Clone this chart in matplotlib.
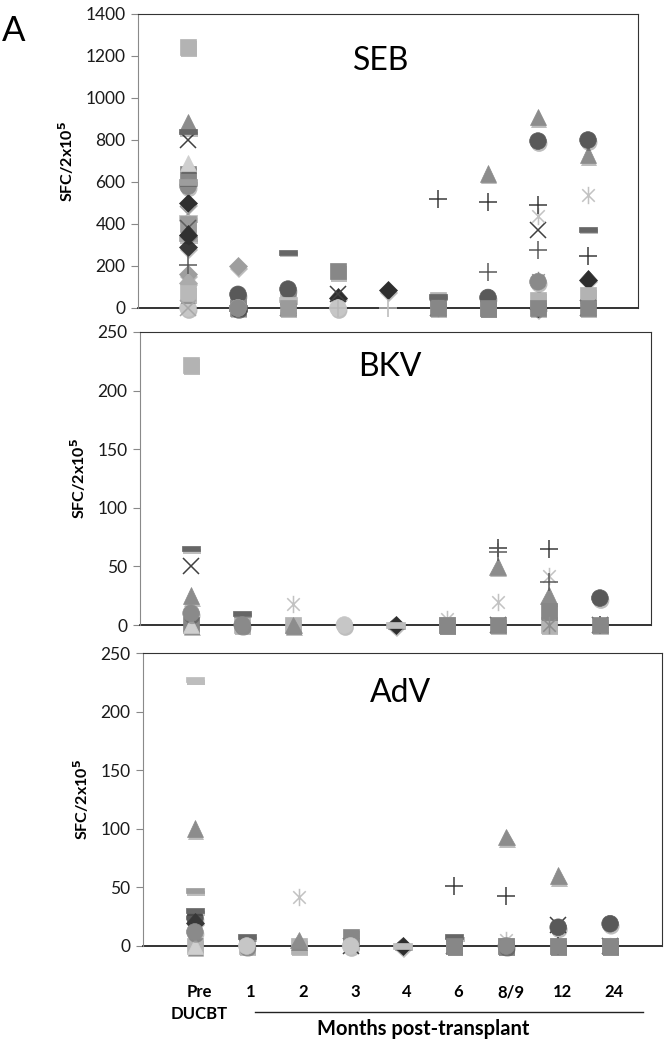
import numpy as np
import matplotlib
matplotlib.use("Agg")
import matplotlib.pyplot as plt
import matplotlib.patheffects as pe
from matplotlib.path import Path
from matplotlib.transforms import blended_transform_factory

plt.rcParams['font.family'] = ['Lato', 'DejaVu Sans']

N = np.nan

### Categories
months = ["Pre", "1", "2", "3", "4", "6", "8/9", "12", "24"]
panelNames = ["SEB", "BKV", "AdV"]

### Patients: marker + grey tone
patientMarker = ['D', 's', '^', 'x', '*', 'o', '+', '-', 'D', 's', '^', 'x', '*', 'o',
				 '+', '-', 'D', 's', 'o', '-', 'x', 'D', '+', '-', 's', 'D', 'x']
patientColor  = ['#2e2e2e', '#b3b3b3', '#8c8c8c', '#404040', '#c2c2c2', '#595959', '#3c3c3c',
				 '#666666', '#9e9e9e', '#878787', '#cfcfcf', '#9a9a9a', '#8e8e8e', '#c6c6c6',
				 '#b8b8b8', '#bdbdbd', '#383838', '#9b9b9b', '#8a8a8a', '#a5a5a5', '#5e5e5e',
				 '#ababab', '#5a5a5a', '#9d9d9d', '#b9b9b9', '#303030', '#a8a8a8']

### SFC/2x10^5 per patient (Pre, 1, 2, 3, 4, 6, 8/9, 12, 24 months)
sebValues = [
	[500, N, N, 50, 85, N, N, 0, 135],
	[1245, 30, 50, N, N, 40, 0, 40, 60],
	[885, N, 15, N, N, N, 640, 910, 730],
	[800, N, 0, 65, N, 0, N, 370, 0],
	[N, N, N, N, N, 0, 0, 440, 540],
	[N, 65, 90, N, N, N, 50, 795, 800],
	[N, N, N, N, N, 520, 505, 490, 250],
	[840, 0, 265, N, N, 55, N, N, 375],
	[160, 200, N, N, N, N, N, N, N],
	[640, 0, N, 175, N, 0, 0, 0, 0],
	[690, N, N, N, N, N, N, N, N],
	[450, N, N, N, N, N, N, N, N],
	[N, N, N, N, N, N, N, 135, N],
	[0, 0, N, 0, N, N, N, N, N],
	[N, N, N, 0, 0, N, N, N, N],
	[430, N, 40, N, N, N, N, N, N],
	[290, N, N, N, N, N, N, N, N],
	[400, N, 0, N, N, N, N, N, N],
	[580, 0, N, N, N, N, N, 125, N],
	[330, N, N, N, N, N, N, N, N],
	[380, N, N, N, N, N, N, N, N],
	[120, N, N, N, N, N, N, N, N],
	[205, N, N, N, N, N, 170, 275, N],
	[600, N, N, N, N, N, N, N, N],
	[70, N, N, N, N, N, N, N, N],
	[350, N, N, N, N, N, N, N, N],
	[0, N, N, N, N, N, N, N, N],
]

bkvValues = [
	[N, N, N, N, 0, N, N, N, N],
	[222, 0, 0, N, N, 0, N, 0, N],
	[25, N, 0, N, N, N, 50, 25, N],
	[50, N, N, N, N, N, 0, N, 0],
	[N, N, 18, N, N, 5, 20, 42, N],
	[N, N, N, N, N, N, N, N, 23],
	[N, N, N, N, N, N, 66, 65, 0],
	[65, 10, N, N, N, N, N, N, N],
	[N] * 9,
	[0, N, N, N, N, 0, 0, 12, 0],
	[0, N, N, N, N, N, N, N, N],
	[N] * 9,
	[N, N, N, N, N, N, N, 0, N],
	[N, N, N, 0, N, N, N, N, N],
	[N] * 9,
	[N, N, N, N, 0, N, N, N, N],
	[N] * 9,
	[N] * 9,
	[10, 0, N, N, N, N, N, N, N],
	[N] * 9,
	[N] * 9,
	[N] * 9,
	[N, N, N, N, N, N, 62, 37, N],
	[N] * 9,
	[N] * 9,
	[N] * 9,
	[N] * 9,
]

advValues = [
	[N, N, N, N, 0, N, N, N, N],
	[0, 0, 0, N, N, 0, 0, 0, 0],
	[100, N, 5, N, N, N, 93, 60, N],
	[N, N, N, 0, N, 0, N, 18, 0],
	[N, N, 42, N, N, N, 5, N, 0],
	[24, N, N, N, N, N, N, 16, 19],
	[N, N, N, N, N, 51, 43, 0, N],
	[30, 8, N, N, N, 8, N, N, N],
	[N] * 9,
	[N, N, N, 8, N, 0, 0, 0, 0],
	[0, N, N, N, N, N, N, N, N],
	[N] * 9,
	[N] * 9,
	[N, 0, N, 0, N, N, N, N, N],
	[N] * 9,
	[227, N, N, N, 0, N, N, N, N],
	[20, N, N, N, N, N, N, N, N],
	[N] * 9,
	[12, N, N, N, N, N, 0, N, N],
	[N] * 9,
	[N] * 9,
	[N] * 9,
	[N] * 9,
	[47, N, N, N, N, N, N, N, N],
	[N] * 9,
	[N] * 9,
	[N] * 9,
]

### Layout (pixels of the 669x1050 figure): left, right, top, zero line
W, H = 669, 1050
axBoxes  = [(138, 638, 14, 308), (140, 651, 332, 625), (143, 662, 653, 946)]
yMaxes   = [1400, 250, 250]
ySteps   = [200, 50, 50]
namePos  = [(0.486, 0.84), (0.489, 0.88), (0.497, 0.863)]

### Marker shapes
dashPath = Path([(-1, -0.28), (1, -0.28), (1, 0.28), (-1, 0.28), (-1, -0.28)],
				[Path.MOVETO, Path.LINETO, Path.LINETO, Path.LINETO, Path.CLOSEPOLY])
starPath = Path([(0, -1), (0, 1), (-0.72, -0.72), (0.72, 0.72), (-0.72, 0.72), (0.72, -0.72)],
				[Path.MOVETO, Path.LINETO, Path.MOVETO, Path.LINETO, Path.MOVETO, Path.LINETO])
markerShape = {'D': 'D', 's': 's', '^': '^', 'x': 'x', '*': starPath, 'o': 'o', '+': '+', '-': dashPath}
markerSize  = {'D': 9.5, 's': 11.5, '^': 12, 'x': 12, '*': 12.5, 'o': 12, '+': 13, '-': 13}
shadow = [pe.SimplePatchShadow(offset=(0.8, -1.8), shadow_rgbFace='0.15', alpha=0.3), pe.Normal()]

fig = plt.figure(figsize=(W / 100, H / 100), dpi=100)
xPos = np.arange(len(months))

for p, values in enumerate([sebValues, bkvValues, advValues]):
	left, right, top, zero = axBoxes[p]
	ax = fig.add_axes([left / W, 1 - zero / H, (right - left) / W, (zero - top) / H])
	ax.set_facecolor('none')

	for k, row in enumerate(values):
		m = patientMarker[k]
		if m in ('x', '+', '*'):
			ax.plot(xPos, row, linestyle='none', marker=markerShape[m], ms=markerSize[m],
					mec=patientColor[k], mfc='none', mew=1.1, clip_on=False, zorder=3)
		else:
			ax.plot(xPos, row, linestyle='none', marker=markerShape[m], ms=markerSize[m],
					mfc=patientColor[k], mec=patientColor[k], mew=0.5, clip_on=False, zorder=3,
					path_effects=shadow)

	ax.set_xlim(-1, 9)
	ax.set_ylim(0, yMaxes[p])
	ax.set_yticks(np.arange(0, yMaxes[p] + 1, ySteps[p]))
	ax.set_xticks([])
	ax.tick_params(axis='y', direction='out', length=5, color='#888888', labelsize=12.5,
				   labelcolor='#1a1a1a', pad=4)
	ax.spines['left'].set_color('#8a8a8a')
	ax.spines['top'].set_color('#333333')
	ax.spines['right'].set_color('#333333')
	ax.spines['bottom'].set_color('#111111')
	ax.spines['bottom'].set_linewidth(1.2)
	ax.spines['bottom'].set_zorder(2)
	ax.set_ylabel("SFC/2x10$^\\mathbf{5}$", fontsize=11.5, fontweight='bold', labelpad=7)
	ax.text(namePos[p][0], namePos[p][1], panelNames[p], transform=ax.transAxes,
			fontsize=23, ha='center', va='center')

	if p == 2:
		# month labels below the last panel
		labelTrans = blended_transform_factory(ax.transData, fig.transFigure)
		for i, lab in enumerate(months):
			ax.text(i + 0.08, 1 - 992 / H, lab, transform=labelTrans, ha='center', va='center',
					fontsize=12, fontweight='bold')
		ax.text(0.08, 1 - 1014 / H, "DUCBT", transform=labelTrans, ha='center', va='center',
				fontsize=12, fontweight='bold')
		ax.plot([1.16, 8.63], [1 - 1012 / H] * 2, transform=labelTrans, color='#222222',
				lw=1, clip_on=False)
		ax.text(4.4, 1 - 1029 / H, "Months post-transplant", transform=labelTrans,
				ha='center', va='center', fontsize=14.5, fontweight='bold')

fig.text(14 / W, 1 - 31 / H, "A", fontsize=25, ha='center', va='center')

plt.savefig("out.png", dpi=100)
